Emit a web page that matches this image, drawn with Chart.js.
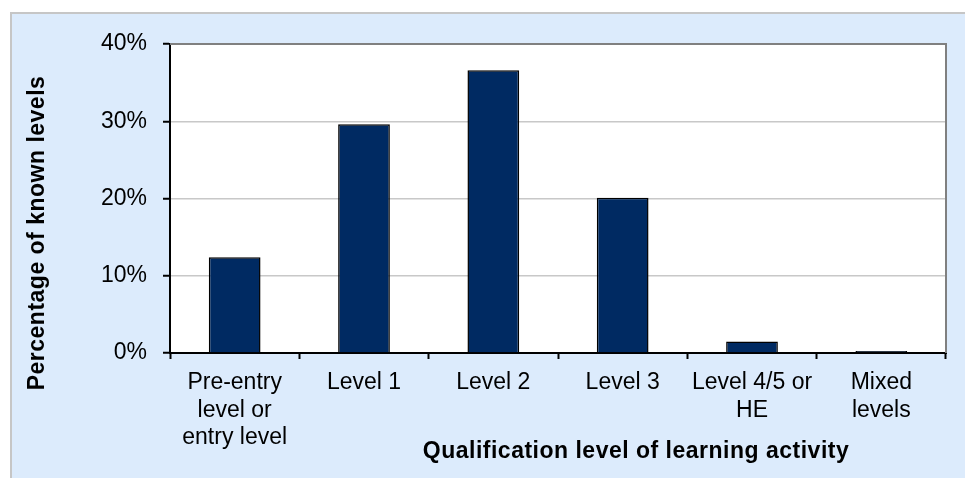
<!DOCTYPE html>
<html>
<head>
<meta charset="utf-8">
<script src="https://cdn.jsdelivr.net/npm/chart.js@4"></script>
<style>
  body { margin: 0; background: #fff; }
  #frame { position: absolute; left: 10px; top: 12px; width: 970px; height: 480px;
           background: #dcebfc; border-left: 2px solid #c6c6c6; border-top: 2px solid #c6c6c6; }
  #wrap { position: absolute; left: 0; top: 0; width: 965px; height: 478px; }
</style>
</head>
<body>
<div id="frame"></div>
<div id="wrap"><canvas id="myChart"></canvas></div>
<script>
const categories = [
  ['Pre-entry', 'level or', 'entry level'],
  'Level 1',
  'Level 2',
  'Level 3',
  ['Level 4/5 or', 'HE'],
  ['Mixed', 'levels']
];
const shareValues = [12.4, 29.6, 36.6, 20.1, 1.5, 0.25];
const yTicks = [0, 10, 20, 30, 40];

Chart.defaults.font.family = '"Liberation Sans", Arial, sans-serif';
Chart.defaults.color = '#000';

// white plot area, gray frame, axis titles drawn where Excel put them
const plotDecor = {
  id: 'plotDecor',
  beforeDraw(chart) {
    const a = chart.chartArea, c = chart.ctx;
    c.save();
    c.fillStyle = '#fff';
    c.fillRect(a.left, a.top, a.right - a.left, a.bottom - a.top);
    c.restore();
  },
  afterDraw(chart) {
    const a = chart.chartArea, c = chart.ctx;
    c.save();
    c.strokeStyle = '#808080';
    c.lineWidth = 2;
    c.beginPath();
    c.moveTo(a.left, a.top);
    c.lineTo(a.right, a.top);
    c.lineTo(a.right, a.bottom);
    c.stroke();

    c.fillStyle = '#000';
    c.font = 'bold 23px "Liberation Sans", Arial, sans-serif';
    c.letterSpacing = '0.5px';
    c.textAlign = 'center';
    c.textBaseline = 'middle';
    c.fillText('Qualification level of learning activity', 636, 452);
    c.translate(38, 233);
    c.rotate(-Math.PI / 2);
    c.fillText('Percentage of known levels', 0, 0);
    c.restore();
  }
};

new Chart('myChart', {
  type: 'bar',
  data: {
    labels: categories,
    datasets: [{
      data: shareValues,
      backgroundColor: '#002a62',
      borderColor: '#000',
      borderWidth: 1.5,
      barPercentage: 0.4,
      categoryPercentage: 1
    }]
  },
  options: {
    responsive: true,
    maintainAspectRatio: false,
    animation: false,
    layout: { padding: { top: 44, right: 19, left: 0, bottom: 0 } },
    plugins: { legend: { display: false }, tooltip: { enabled: false } },
    scales: {
      x: {
        afterFit(scale) { scale.height = 125; },
        grid: { drawOnChartArea: false, drawTicks: true, tickLength: 6, tickColor: '#000', tickWidth: 2 },
        border: { color: '#000', width: 2 },
        ticks: { font: { size: 23, lineHeight: 1.2 }, padding: 10, maxRotation: 0, autoSkip: false }
      },
      y: {
        min: 0,
        max: 40,
        afterFit(scale) { scale.width = 170; },
        afterBuildTicks(scale) { scale.ticks = yTicks.map(v => ({ value: v })); },
        grid: { color: '#c8c8c8', lineWidth: 1.5, tickLength: 7, tickColor: '#000', tickWidth: 2 },
        border: { color: '#000', width: 2 },
        ticks: { font: { size: 23 }, padding: 16, callback: v => v + '%' }
      }
    }
  },
  plugins: [plotDecor]
});
</script>
</body>
</html>
